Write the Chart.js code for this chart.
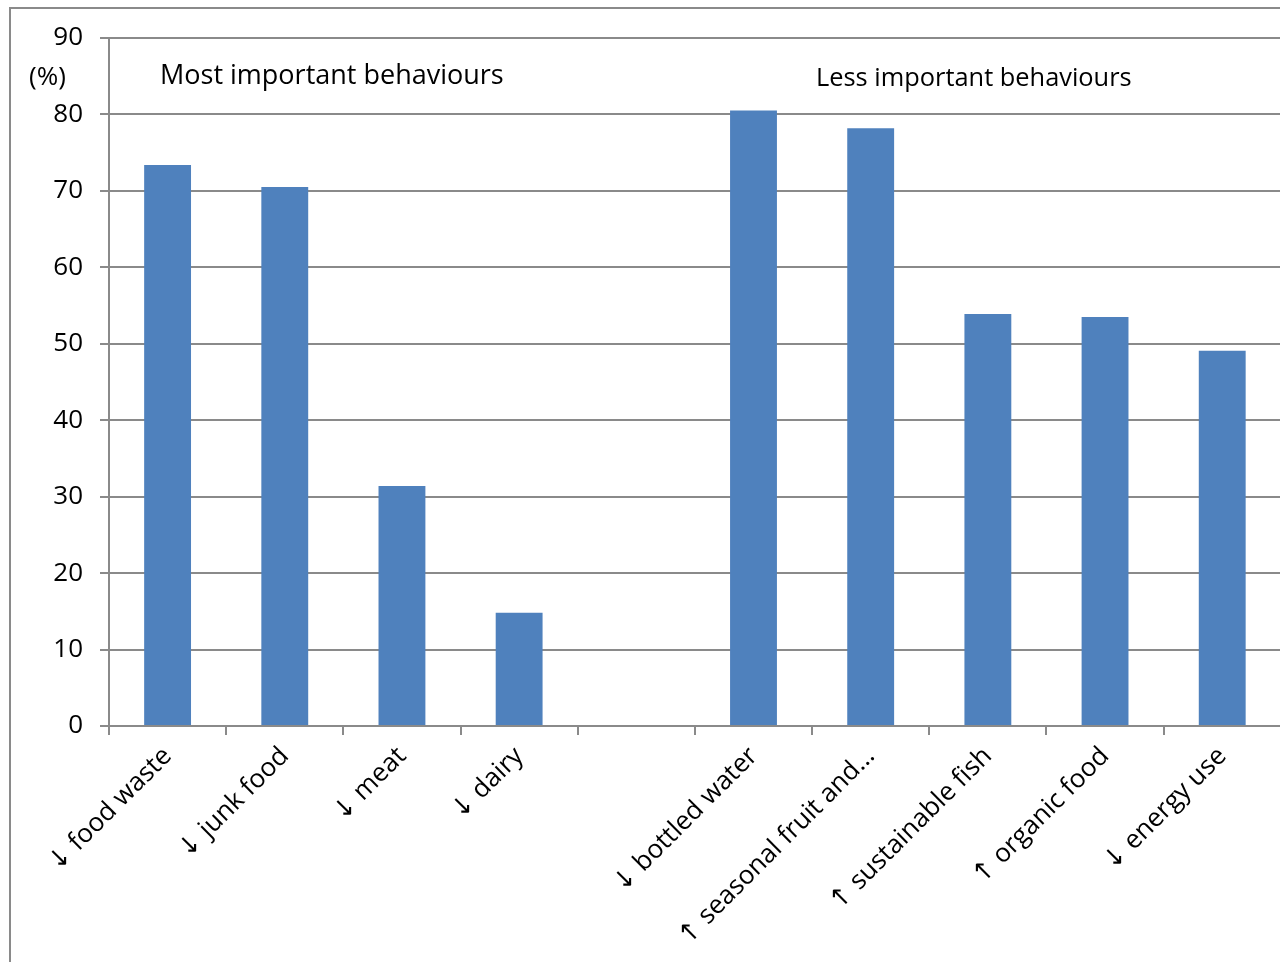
<!DOCTYPE html>
<html>
<head>
<meta charset="utf-8">
<script src="https://cdn.jsdelivr.net/npm/chart.js@4.4.0/dist/chart.umd.min.js"></script>
<style>
  @font-face { font-family: "Arrows"; src: local("DejaVu Sans"); unicode-range: U+2190-21FF; }
  html, body { margin: 0; padding: 0; background: #fff; overflow: hidden; }
  body { width: 1280px; height: 962px; position: relative; font-family: "Open Sans", sans-serif; }
  .frame { position: absolute; left: 9px; top: 7px; width: 1400px; height: 1000px;
           border-left: 2px solid #8a8a8a; border-top: 2px solid #8a8a8a; }
  #wrap { position: absolute; left: 0; top: 0; }
  .note { position: absolute; color: #000; font-size: 26px; white-space: nowrap; line-height: 1; }
</style>
</head>
<body>
<div class="frame"></div>
<div id="wrap"><canvas id="chart" width="1400" height="962"></canvas></div>
<div class="note" style="left:29px; top:62px;">(%)</div>
<div class="note" style="left:160px; top:60px; font-size:27px;">Most important behaviours</div>
<div class="note" style="left:816px; top:64px; font-size:25.4px;">Less important behaviours</div>
<script>
const categories = [
  '↓ food waste', '↓ junk food', '↓ meat', '↓ dairy', '',
  '↓ bottled water', '↑ seasonal fruit and…', '↑ sustainable fish',
  '↑ organic food', '↓ energy use', ''
];
const shares = [73.4, 70.5, 31.4, 14.8, null, 80.5, 78.2, 53.9, 53.5, 49.1, null];
const yTicks = [0, 10, 20, 30, 40, 50, 60, 70, 80, 90];

const grey = '#8a8a8a';
const font = { family: 'Arrows, "Open Sans", sans-serif', size: 26 };

function draw() {
  const ctx = document.getElementById('chart').getContext('2d');
  new Chart(ctx, {
    type: 'bar',
    data: {
      labels: categories,
      datasets: [{
        data: shares,
        backgroundColor: '#4F81BD',
        borderWidth: 0,
        barPercentage: 0.4,
        categoryPercentage: 1
      }]
    },
    options: {
      responsive: false,
      animation: false,
      devicePixelRatio: 1,
      layout: { padding: { top: 38, right: 2, left: 0, bottom: 0 } },
      plugins: { legend: { display: false }, tooltip: { enabled: false } },
      scales: {
        x: {
          afterFit: s => { s.height = 236; },
          grid: { drawOnChartArea: false, drawTicks: true, tickLength: 9, color: grey, lineWidth: 2, offset: true },
          border: { color: grey, width: 2 },
          ticks: { color: '#000', font, minRotation: 45, maxRotation: 45, padding: 6, autoSkip: false }
        },
        y: {
          min: 0, max: 90,
          afterFit: s => { s.width = 109; },
          afterBuildTicks: s => { s.ticks = yTicks.map(v => ({ value: v })); },
          grid: { color: grey, lineWidth: 2, tickLength: 9 },
          border: { color: grey, width: 2 },
          ticks: { color: '#000', font, padding: 17 }
        }
      }
    }
  });
}

Promise.all([
  document.fonts.load('26px Arrows', '↓↑'),
  document.fonts.load('26px "Open Sans"', 'food')
]).then(draw, draw);
</script>
</body>
</html>
